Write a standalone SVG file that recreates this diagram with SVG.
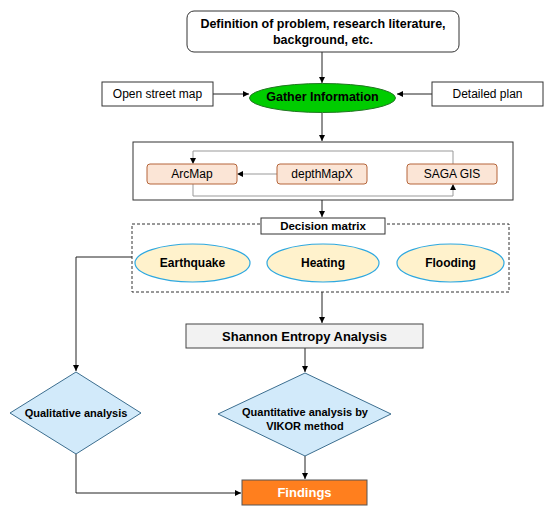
<svg xmlns="http://www.w3.org/2000/svg" width="550" height="514" viewBox="0 0 550 514">
<defs>
<marker id="ah" viewBox="0 0 10 10" refX="10" refY="5" markerWidth="6" markerHeight="6" orient="auto" markerUnits="userSpaceOnUse"><path d="M0,0 L10,5 L0,10 z" fill="#000"/></marker>
<style>
text{font-family:"Liberation Sans",Arial,sans-serif;fill:#000;text-anchor:middle;dominant-baseline:central}
.b{font-weight:bold}
.ln{fill:none;stroke:#222;stroke-width:1}
.gl{fill:none;stroke:#999;stroke-width:1}
.wb{fill:#fff;stroke:#333;stroke-width:1}
.tool{fill:#fbe5d6;stroke:#b5653a;stroke-width:1}
.haz{fill:#fff2cc;stroke:#2ea8e0;stroke-width:1.2}
.dia{fill:#d2eafa;stroke:#3c6e8f;stroke-width:1}
</style>
</defs>
<g id="tools">
<rect class="wb" x="133" y="142" width="380" height="58" stroke-width="1.2"/>
</g>
<g id="connectors">
<line class="ln" x1="322" y1="52" x2="322" y2="83" marker-end="url(#ah)"/>
<line class="ln" x1="213" y1="94" x2="249" y2="94" marker-end="url(#ah)"/>
<line class="ln" x1="432" y1="94" x2="397" y2="94" marker-end="url(#ah)"/>
<line class="ln" x1="322" y1="113" x2="322" y2="141" marker-end="url(#ah)"/>
<polyline class="gl" points="453,164 453,151 193,151 193,163"/>
<path d="M190,158 L193,164 L196,158 z" fill="#000"/>
<line class="gl" x1="277" y1="174" x2="240" y2="174"/>
<path d="M243,171 L237,174 L243,177 z" fill="#000"/>
<polyline class="gl" points="193,184 193,196 453,196 453,185"/>
<path d="M450,190 L453,184 L456,190 z" fill="#000"/>
<line class="ln" x1="322" y1="200" x2="322" y2="217" marker-end="url(#ah)"/>
<polyline class="ln" points="132,257 76,257 76,371" marker-end="url(#ah)"/>
<line class="ln" x1="322" y1="292" x2="322" y2="323" marker-end="url(#ah)"/>
<line class="ln" x1="305" y1="348" x2="305" y2="372" marker-end="url(#ah)"/>
<polyline class="ln" points="76,454 76,493 241,493" marker-end="url(#ah)"/>
<line class="ln" x1="305" y1="456" x2="305" y2="479" marker-end="url(#ah)"/>
</g>
<g id="definition">
<rect class="wb" x="187" y="11" width="272" height="41" rx="7"/>
<text class="b" x="323" y="24" font-size="12.5">Definition of problem, research literature,</text>
<text class="b" x="323" y="40" font-size="12.5">background, etc.</text>
</g>
<g id="osm">
<rect class="wb" x="102" y="82" width="111" height="24"/>
<text x="157.5" y="94" font-size="12">Open street map</text>
</g>
<g id="gather">
<ellipse cx="322.5" cy="98" rx="73" ry="14.5" fill="#00cc00" stroke="#227722" stroke-width="1"/>
<text class="b" x="322.5" y="97" font-size="12.5">Gather Information</text>
</g>
<g id="detailed">
<rect class="wb" x="432" y="82" width="111" height="24"/>
<text x="487.5" y="94" font-size="12">Detailed plan</text>
</g>
<g id="arcmap">
<rect class="tool" x="147" y="164" width="90" height="20" rx="3"/>
<text x="192" y="174" font-size="12">ArcMap</text>
</g>
<g id="depthmapx">
<rect class="tool" x="277" y="164" width="90" height="20" rx="3"/>
<text x="322" y="174" font-size="12">depthMapX</text>
</g>
<g id="saga">
<rect class="tool" x="407" y="164" width="90" height="20" rx="3"/>
<text x="452" y="174" font-size="12">SAGA GIS</text>
</g>
<g id="decision">
<rect x="132" y="224" width="377" height="68" fill="none" stroke="#333" stroke-width="1" stroke-dasharray="3,2"/>
<rect class="wb" x="261" y="218" width="124" height="16"/>
<text class="b" x="323" y="226" font-size="11.5">Decision matrix</text>
</g>
<g id="earthquake">
<ellipse class="haz" cx="192.5" cy="263" rx="57.5" ry="19"/>
<text class="b" x="192.5" y="263" font-size="12">Earthquake</text>
</g>
<g id="heating">
<ellipse class="haz" cx="323" cy="263" rx="56" ry="19"/>
<text class="b" x="323" y="263" font-size="12">Heating</text>
</g>
<g id="flooding">
<ellipse class="haz" cx="450.5" cy="263" rx="53.5" ry="19"/>
<text class="b" x="450.5" y="263" font-size="12">Flooding</text>
</g>
<g id="shannon">
<rect x="186" y="324" width="237" height="24" fill="#f2f2f2" stroke="#444" stroke-width="1"/>
<text class="b" x="304.5" y="336" font-size="13">Shannon Entropy Analysis</text>
</g>
<g id="qualitative">
<polygon class="dia" points="76,372 141,413 76,454 10,413"/>
<text class="b" x="76" y="413" font-size="11">Qualitative analysis</text>
</g>
<g id="quantitative">
<polygon class="dia" points="305,373 391,414 305,456 218,414"/>
<text class="b" x="305" y="412" font-size="11">Quantitative analysis by</text>
<text class="b" x="305" y="426" font-size="11">VIKOR method</text>
</g>
<g id="findings">
<rect x="242" y="480" width="125" height="25" fill="#ff7f1e" stroke="#555" stroke-width="1"/>
<text class="b" x="304.5" y="492.5" font-size="13" style="fill:#fff">Findings</text>
</g>
</svg>
